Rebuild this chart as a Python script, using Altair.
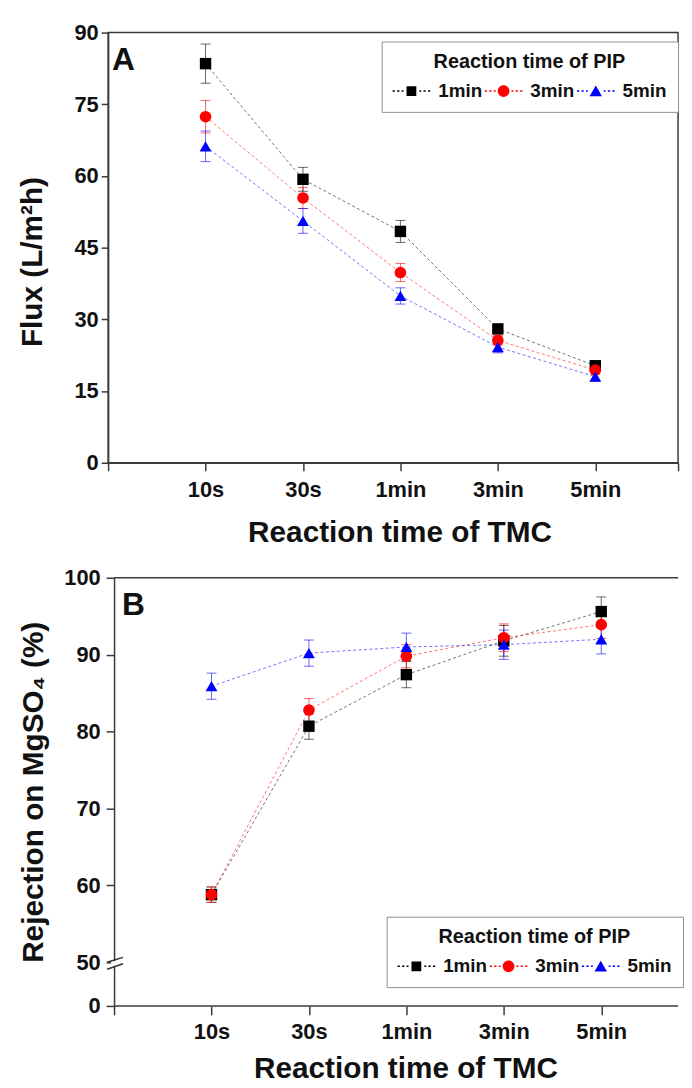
import json
import altair as alt
import pandas as pd

# ---------------- data ----------------
categories = ["10s", "30s", "1min", "3min", "5min"]
series = ["1min", "3min", "5min"]
colors = ["#000000", "#ff0000", "#0000ff"]

flux_1min = [83.5, 59.3, 48.4, 28.0, 20.3]
flux_3min = [72.4, 55.4, 39.8, 25.6, 19.4]
flux_5min = [66.2, 50.6, 34.9, 24.2, 18.0]
flux_err_1min = [4.1, 2.5, 2.3, 1.0, 0.8]
flux_err_3min = [3.4, 2.2, 1.9, 1.0, 0.8]
flux_err_5min = [3.2, 2.6, 1.7, 1.2, 0.9]

rej_1min = [58.8, 80.7, 87.4, 91.8, 95.6]
rej_3min = [58.8, 82.8, 89.8, 92.2, 93.9]
rej_5min = [85.9, 90.2, 91.0, 91.3, 92.0]
rej_err_1min = [1.0, 1.7, 1.7, 2.0, 1.9]
rej_err_3min = [1.0, 1.5, 1.5, 1.8, 1.8]
rej_err_5min = [1.7, 1.7, 1.8, 1.9, 1.9]

flux_ticks = [0, 15, 30, 45, 60, 75, 90]
rej_ticks = [0, 50, 60, 70, 80, 90, 100]


def build(vals_list, errs_list):
    rows = []
    for s, vals, errs in zip(series, vals_list, errs_list):
        for i, (c, v, e) in enumerate(zip(categories, vals, errs)):
            rows.append({"s": s, "cat": c, "xi": i + 1, "v": v, "lo": v - e, "hi": v + e})
    return pd.DataFrame(rows)


df_a = build([flux_1min, flux_3min, flux_5min], [flux_err_1min, flux_err_3min, flux_err_5min])
df_b = build([rej_1min, rej_3min, rej_5min], [rej_err_1min, rej_err_3min, rej_err_5min])

# ---------------- style ----------------
FONT = "Liberation Sans"
W = 575
UNIT = 98.3
AX = "#3a3a3a"
XMAX_A = W / UNIT
SHIFT_B = 6
XMIN_B = -SHIFT_B / UNIT
XMAX_B = (W - SHIFT_B) / UNIT

label_expr = ("datum.value >= 0.5 && datum.value <= 5.5 ? " + json.dumps(categories)
              + "[round(datum.value) - 1] : ''")


def dash_path():
    segs = [(-1, -0.88), (-0.76, -0.64), (-0.52, -0.42), (0.42, 0.52), (0.64, 0.76), (0.88, 1)]
    return "".join(f"M{a},-0.04H{b}V0.04H{a}Z" for a, b in segs)


legend_shapes = [
    "M-0.26,-0.26H0.26V0.26H-0.26Z" + dash_path(),
    "M-0.31,0A0.31,0.31 0 1,0 0.31,0A0.31,0.31 0 1,0 -0.31,0Z" + dash_path(),
    "M0,-0.3L0.33,0.28H-0.33Z" + dash_path(),
]

cscale = alt.Scale(domain=series, range=colors)


def panel(df, xdomain, yscale, yaxis, xaxis, height, letter, letter_x, legend_x, legend_y,
          extra=None, view=None):
    base = alt.Chart(df)
    x = alt.X("xi:Q", scale=alt.Scale(domain=xdomain, nice=False, zero=False), axis=xaxis)
    y = alt.Y("v:Q", scale=yscale, axis=yaxis)
    col = alt.Color("s:N", scale=cscale, legend=None)

    lines = base.mark_line(strokeDash=[3, 2.5], strokeWidth=1, opacity=0.55).encode(
        x=x, y=y, color=col, detail="s:N", order="xi:Q")
    err = base.mark_rule(strokeWidth=1, opacity=0.6).encode(
        x=alt.X("xi:Q"), y=alt.Y("lo:Q"), y2="hi:Q", color=col)
    cap_lo = base.mark_tick(orient="horizontal", size=10, thickness=1, opacity=0.6).encode(
        x=alt.X("xi:Q"), y=alt.Y("lo:Q"), color=col)
    cap_hi = base.mark_tick(orient="horizontal", size=10, thickness=1, opacity=0.6).encode(
        x=alt.X("xi:Q"), y=alt.Y("hi:Q"), color=col)
    pts = base.mark_point(filled=True, opacity=1, strokeWidth=0).encode(
        x=alt.X("xi:Q"), y=alt.Y("v:Q"), color=col,
        shape=alt.Shape("s:N", scale=alt.Scale(domain=series, range=["square", "circle", "triangle-up"]), legend=None),
        size=alt.Size("s:N", scale=alt.Scale(domain=series, range=[132, 144, 190]), legend=None),
    )
    leg = alt.Legend(
        title="Reaction time of PIP", orient="none", legendX=legend_x, legendY=legend_y,
        direction="horizontal", titleAnchor="middle", titleFont=FONT, titleFontSize=20,
        titleFontWeight="bold", titleColor="#111", titlePadding=0, titleLimit=500,
        labelFont=FONT, labelFontSize=19, labelFontWeight="bold", labelColor="#111",
        labelOffset=8, columnPadding=2, padding=11, symbolSize=1444, symbolStrokeWidth=0,
        strokeColor="#909090", fillColor="white", labelLimit=200,
    )
    phantom = base.transform_filter("false").mark_point(filled=True, opacity=1).encode(
        color=alt.Color("s:N", scale=cscale, legend=leg),
        shape=alt.Shape("s:N", scale=alt.Scale(domain=series, range=legend_shapes), legend=leg),
    )
    dummy = alt.Chart(pd.DataFrame({"k": [0]}))
    txt = dummy.mark_text(text=letter, font=FONT, fontSize=32, fontWeight="bold", align="left",
                          baseline="alphabetic", color="#111").encode(
        x=alt.value(letter_x), y=alt.value(38))
    layers = [lines, err, cap_lo, cap_hi, pts, phantom, txt]
    if extra:
        layers += extra
    props = dict(width=W, height=height)
    if view is not None:
        props["view"] = view
    return alt.layer(*layers).resolve_scale(
        color="independent", shape="independent", size="independent").properties(**props)


common_axis = dict(labelFont=FONT, labelFontSize=22, labelFontWeight="bold", labelColor="#111",
                   titleFont=FONT, titleFontSize=30, titleFontWeight="bold", titleColor="#111",
                   tickColor=AX, tickWidth=1.5, domainColor=AX, domainWidth=1.5, grid=False,
                   labelOverlap=False, labelFlush=False)

# Panel A
xa = alt.Axis(title="Reaction time of TMC", values=[0, 1, 2, 3, 4, 5, XMAX_A], labelExpr=label_expr,
              tickSize=8, labelPadding=9, titlePadding=17, titleX=294, **common_axis)
ya = alt.Axis(title="Flux (L/m²h)", values=flux_ticks, tickSize=7, labelPadding=3, titlePadding=27,
              titleY=231, **common_axis)
ys_a = alt.Scale(domain=[0, 90], nice=False, zero=False)
chart_a = panel(df_a, [0, XMAX_A], ys_a, ya, xa, 434, "A", 4, 276, 9)

# Panel B (broken axis: 0-50 compressed)
HB = 432
xb = alt.Axis(title="Reaction time of TMC", values=[0, 1, 2, 3, 4, 5], labelExpr=label_expr,
              tickSize=9, labelPadding=7, titlePadding=11, titleX=300, domain=False, **common_axis)
yb = alt.Axis(title="Rejection on MgSO₄ (%)", values=rej_ticks, tickSize=8, labelPadding=6,
              titlePadding=15, offset=-SHIFT_B, **common_axis)
ys_b = alt.Scale(domain=[0, 50, 100], range=[HB, 388, 0], nice=False, zero=False)
dummy = alt.Chart(pd.DataFrame({"k": [0]}))
top_line = dummy.mark_rule(color=AX, strokeWidth=1.5).encode(
    x=alt.datum(0), x2=alt.datum(XMAX_B), y=alt.value(0))
bottom_line = dummy.mark_rule(color=AX, strokeWidth=1.5).encode(
    x=alt.datum(0), x2=alt.datum(XMAX_B), y=alt.value(HB))
gap = dummy.mark_rect(color="white").encode(
    x=alt.value(SHIFT_B - 3), x2=alt.value(SHIFT_B + 3), y=alt.value(386.8), y2=alt.value(391.6))
s1 = dummy.mark_rule(color="#333", strokeWidth=1.5).encode(
    x=alt.value(SHIFT_B - 7), x2=alt.value(SHIFT_B + 9), y=alt.value(388), y2=alt.value(383))
s2 = dummy.mark_rule(color="#333", strokeWidth=1.5).encode(
    x=alt.value(SHIFT_B - 7), x2=alt.value(SHIFT_B + 9), y=alt.value(395), y2=alt.value(389.5))
chart_b = panel(df_b, [XMIN_B, XMAX_B], ys_b, yb, xb, HB, "B", 14, 281, 342,
                extra=[top_line, bottom_line, gap, s1, s2],
                view=alt.ViewBackground(stroke="transparent", strokeWidth=0))

chart = alt.vconcat(chart_a, chart_b, spacing=116, bounds="flush").resolve_scale(
    color="independent", shape="independent", size="independent", x="independent", y="independent"
).properties(padding={"left": 8, "top": 8, "right": 0, "bottom": 0}).configure_view(
    stroke=AX, strokeWidth=1.5
)

chart.save("out.html", embed_options={"renderer": "svg", "actions": False})
